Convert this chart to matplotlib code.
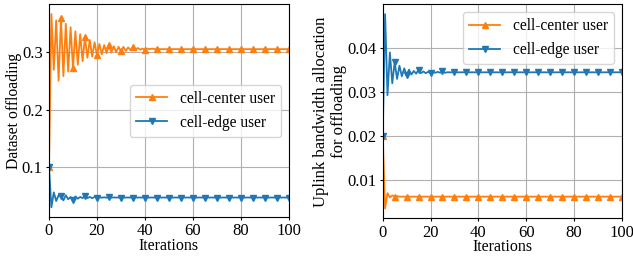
import matplotlib
matplotlib.use('Agg')
import numpy as np
import matplotlib.pyplot as plt

plt.rcParams['font.family'] = ['Liberation Serif', 'DejaVu Serif']
plt.rcParams['font.size'] = 11

# data (iterations 0..100)
iterations = list(range(101))

# left: dataset offloading
center_offload = [
    0.100, 0.366, 0.269, 0.355, 0.250, 0.359, 0.258, 0.349, 0.266, 0.343,
    0.272, 0.336, 0.278, 0.331, 0.284, 0.326, 0.290, 0.321, 0.292, 0.317,
    0.294, 0.314, 0.296, 0.312, 0.298, 0.313, 0.299, 0.310, 0.300, 0.309,
    0.301, 0.309, 0.302, 0.308, 0.303, 0.308, 0.304, 0.307, 0.304, 0.306,
    0.304, 0.306, 0.305, 0.306, 0.305, 0.305, 0.305, 0.305, 0.305, 0.305,
    0.305, 0.305, 0.305, 0.305, 0.305, 0.305, 0.305, 0.305, 0.305, 0.305,
    0.305, 0.305, 0.305, 0.305, 0.305, 0.305, 0.305, 0.305, 0.305, 0.305,
    0.305, 0.305, 0.305, 0.305, 0.305, 0.305, 0.305, 0.305, 0.305, 0.305,
    0.305, 0.305, 0.305, 0.305, 0.305, 0.305, 0.305, 0.305, 0.305, 0.305,
    0.305, 0.305, 0.305, 0.305, 0.305, 0.305, 0.305, 0.305, 0.305, 0.305,
    0.305,
]
edge_offload = [
    0.100, 0.030, 0.056, 0.041, 0.051, 0.050, 0.042, 0.051, 0.044, 0.048,
    0.042, 0.049, 0.045, 0.048, 0.046, 0.050, 0.046, 0.048, 0.046, 0.048,
    0.047, 0.0475, 0.0468, 0.0474, 0.0468, 0.0473, 0.0469, 0.0472, 0.047, 0.047,
    0.047, 0.047, 0.047, 0.047, 0.047, 0.047, 0.047, 0.047, 0.047, 0.047,
    0.047, 0.047, 0.047, 0.047, 0.047, 0.047, 0.047, 0.047, 0.047, 0.047,
    0.047, 0.047, 0.047, 0.047, 0.047, 0.047, 0.047, 0.047, 0.047, 0.047,
    0.047, 0.047, 0.047, 0.047, 0.047, 0.047, 0.047, 0.047, 0.047, 0.047,
    0.047, 0.047, 0.047, 0.047, 0.047, 0.047, 0.047, 0.047, 0.047, 0.047,
    0.047, 0.047, 0.047, 0.047, 0.047, 0.047, 0.047, 0.047, 0.047, 0.047,
    0.047, 0.047, 0.047, 0.047, 0.047, 0.047, 0.047, 0.047, 0.047, 0.047,
    0.047,
]

# right: uplink bandwidth allocation
center_bw = [
    0.0200, 0.0036, 0.0071, 0.0061, 0.0066, 0.0063, 0.0064, 0.0063, 0.0063, 0.0063,
    0.0063, 0.0063, 0.0063, 0.0063, 0.0063, 0.0063, 0.0063, 0.0063, 0.0063, 0.0063,
    0.0063, 0.0063, 0.0063, 0.0063, 0.0063, 0.0063, 0.0063, 0.0063, 0.0063, 0.0063,
    0.0063, 0.0063, 0.0063, 0.0063, 0.0063, 0.0063, 0.0063, 0.0063, 0.0063, 0.0063,
    0.0063, 0.0063, 0.0063, 0.0063, 0.0063, 0.0063, 0.0063, 0.0063, 0.0063, 0.0063,
    0.0063, 0.0063, 0.0063, 0.0063, 0.0063, 0.0063, 0.0063, 0.0063, 0.0063, 0.0063,
    0.0063, 0.0063, 0.0063, 0.0063, 0.0063, 0.0063, 0.0063, 0.0063, 0.0063, 0.0063,
    0.0063, 0.0063, 0.0063, 0.0063, 0.0063, 0.0063, 0.0063, 0.0063, 0.0063, 0.0063,
    0.0063, 0.0063, 0.0063, 0.0063, 0.0063, 0.0063, 0.0063, 0.0063, 0.0063, 0.0063,
    0.0063, 0.0063, 0.0063, 0.0063, 0.0063, 0.0063, 0.0063, 0.0063, 0.0063, 0.0063,
    0.0063,
]
edge_bw = [
    0.0200, 0.0477, 0.0293, 0.0390, 0.0320, 0.0368, 0.0330, 0.0360, 0.0336, 0.0354,
    0.0338, 0.0351, 0.0340, 0.0348, 0.0342, 0.0351, 0.0343, 0.0347, 0.0343, 0.0346,
    0.0343, 0.0346, 0.0344, 0.0346, 0.0344, 0.0347, 0.0344, 0.0345, 0.0345, 0.0345,
    0.0345, 0.0345, 0.0345, 0.0345, 0.0345, 0.0345, 0.0345, 0.0345, 0.0345, 0.0345,
    0.0345, 0.0345, 0.0345, 0.0345, 0.0345, 0.0345, 0.0345, 0.0345, 0.0345, 0.0345,
    0.0345, 0.0345, 0.0345, 0.0345, 0.0345, 0.0345, 0.0345, 0.0345, 0.0345, 0.0345,
    0.0345, 0.0345, 0.0345, 0.0345, 0.0345, 0.0345, 0.0345, 0.0345, 0.0345, 0.0345,
    0.0345, 0.0345, 0.0345, 0.0345, 0.0345, 0.0345, 0.0345, 0.0345, 0.0345, 0.0345,
    0.0345, 0.0345, 0.0345, 0.0345, 0.0345, 0.0345, 0.0345, 0.0345, 0.0345, 0.0345,
    0.0345, 0.0345, 0.0345, 0.0345, 0.0345, 0.0345, 0.0345, 0.0345, 0.0345, 0.0345,
    0.0345,
]

labels = ['cell-center user', 'cell-edge user']

fig = plt.figure(figsize=(6.33, 2.58), dpi=100)
ax1 = fig.add_axes([0.0774, 0.159, 0.379, 0.824])
ax2 = fig.add_axes([0.6046, 0.154, 0.3776, 0.829])

# left panel
ax1.plot(iterations, center_offload, color='tab:orange', marker='^', markevery=5,
         markersize=5, linewidth=1.3, label=labels[0])
ax1.plot(iterations, edge_offload, color='tab:blue', marker='v', markevery=5,
         markersize=5, linewidth=1.3, label=labels[1])
ax1.set_xlim(0, 100)
ax1.set_xticks([0, 20, 40, 60, 80, 100])
ax1.set_yticks([0.1, 0.2, 0.3])
ax1.tick_params(labelsize=12, length=2.5, pad=2)
ax1.set_xlabel('Iterations', fontsize=11.5, labelpad=-1)
ax1.set_ylabel('Dataset offloading', fontsize=11.3, labelpad=0)
ax1.grid(True)
ax1.legend(loc='center right', fontsize=11.2)

# right panel
ax2.plot(iterations, center_bw, color='tab:orange', marker='^', markevery=5,
         markersize=5, linewidth=1.3, label=labels[0])
ax2.plot(iterations, edge_bw, color='tab:blue', marker='v', markevery=5,
         markersize=5, linewidth=1.3, label=labels[1])
ax2.set_xlim(0, 100)
ax2.set_xticks([0, 20, 40, 60, 80, 100])
ax2.set_yticks([0.01, 0.02, 0.03, 0.04])
ax2.tick_params(labelsize=12, length=2.5, pad=2)
ax2.set_xlabel('Iterations', fontsize=11.5, labelpad=-1)
ax2.set_ylabel('Uplink bandwidth allocation\nfor offloading', fontsize=12, labelpad=0)
ax2.grid(True)
ax2.legend(loc='upper right', fontsize=11.2)

fig.savefig('out.png', dpi=100)
